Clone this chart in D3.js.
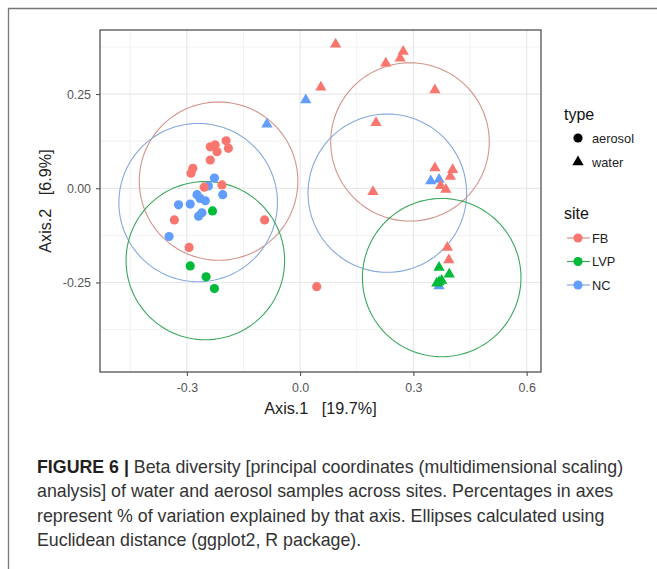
<!DOCTYPE html>
<html><head><meta charset="utf-8">
<script src="https://cdn.jsdelivr.net/npm/d3@7"></script>
<style>
body{margin:0;background:#fff;}
svg text{font-family:"Liberation Sans",Arial,sans-serif;}
</style>
</head><body><svg id="c" width="657" height="569"></svg>
<script>
// ---------- data ----------
const sites = ["FB", "LVP", "NC"];
const types = ["aerosol", "water"];
const xTicks = [-0.3, 0.0, 0.3, 0.6];
const yTicks = [0.25, 0.00, -0.25];
const xTickLabels = ["-0.3", "0.0", "0.3", "0.6"];
const yTickLabels = ["0.25", "0.00", "-0.25"];
const xMinor = [-0.45, -0.15, 0.15, 0.45];
const yMinor = [0.375, 0.125, -0.125, -0.375];

// aerosol samples [Axis.1, Axis.2]
const aerosolFB = [[-0.196,0.126],[-0.190,0.106],[-0.238,0.110],[-0.225,0.115],[-0.220,0.097],
  [-0.238,0.075],[-0.284,0.053],[-0.289,0.040],[-0.207,0.009],[-0.254,0.003],[-0.333,-0.084],
  [-0.094,-0.084],[-0.294,-0.157],[0.044,-0.261]];
const aerosolNC = [[-0.227,0.027],[-0.205,-0.017],[-0.273,-0.017],[-0.243,0.006],[-0.265,-0.027],
  [-0.251,-0.033],[-0.322,-0.044],[-0.291,-0.042],[-0.269,-0.074],[-0.260,-0.065],[-0.347,-0.128]];
const aerosolLVP = [[-0.232,-0.060],[-0.291,-0.206],[-0.249,-0.235],[-0.227,-0.266]];
// water samples
const waterFB = [[0.094,0.382],[0.273,0.363],[0.265,0.345],[0.227,0.332],[0.055,0.268],[0.357,0.261],
  [0.201,0.174],[0.357,0.054],[0.404,0.049],[0.398,0.031],[0.372,0.007],[0.386,-0.003],
  [0.193,-0.009],[0.390,-0.157],[0.394,-0.190]];
const waterNC = [[-0.088,0.170],[0.015,0.234],[0.346,0.019],[0.368,0.023],[0.368,-0.259]];
const waterLVP = [[0.368,-0.210],[0.395,-0.228],[0.375,-0.245],[0.368,-0.249],[0.362,-0.252]];

// ellipses (euclid) per site/type
const ellipseSite = ["FB","NC","LVP","FB","NC","LVP"];
const ellipseX = [-0.216,-0.270,-0.251,0.291,0.231,0.375];
const ellipseY = [0.019,-0.038,-0.192,0.123,-0.013,-0.237];
const ellipseRadius = 0.21;

const xLabel = "Axis.1   [19.7%]";
const yLabel = "Axis.2   [6.9%]";
const captionBold = "FIGURE 6 | ";
const captionLines = [
  "Beta diversity [principal coordinates (multidimensional scaling)",
  "analysis] of water and aerosol samples across sites. Percentages in axes",
  "represent % of variation explained by that axis. Ellipses calculated using",
  "Euclidean distance (ggplot2, R package)."
];

// ---------- drawing ----------
const FONT = "'Liberation Sans', Arial, sans-serif";
const svg = d3.select("#c");
const colors = {FB:"#F8766D", LVP:"#00BA38", NC:"#619CFF"};
const ellColors = {FB:"#d4938b", LVP:"#3aa85c", NC:"#86a9dc"};

// outer frame
svg.append("path").attr("d","M8.5,569 L8.5,8.5 L657,8.5").attr("fill","none")
  .attr("stroke","#777").attr("stroke-width",1.3);

const L = 100, R = 541, T = 30, B = 372;
const x = d3.scaleLinear().domain([-0.53, 0.638]).range([L, R]);
const y = d3.scaleLinear().domain([-0.4875, 0.42]).range([B, T]);

const g = svg.append("g");
// grid
g.selectAll(".xm").data(xMinor).join("line").attr("x1",d=>x(d)).attr("x2",d=>x(d))
  .attr("y1",T).attr("y2",B).attr("stroke","#f2f2f2").attr("stroke-width",1);
g.selectAll(".ym").data(yMinor).join("line").attr("y1",d=>y(d)).attr("y2",d=>y(d))
  .attr("x1",L).attr("x2",R).attr("stroke","#f2f2f2").attr("stroke-width",1);
g.selectAll(".xM").data(xTicks).join("line").attr("x1",d=>x(d)).attr("x2",d=>x(d))
  .attr("y1",T).attr("y2",B).attr("stroke","#e8e8e8").attr("stroke-width",1.2);
g.selectAll(".yM").data(yTicks).join("line").attr("y1",d=>y(d)).attr("y2",d=>y(d))
  .attr("x1",L).attr("x2",R).attr("stroke","#e8e8e8").attr("stroke-width",1.2);

// ellipses
const ang = d3.range(0, 361, 3).map(a => a*Math.PI/180);
const line = d3.line().x(d=>d[0]).y(d=>d[1]);
ellipseSite.forEach((s,i) => {
  const pts = ang.map(a => [x(ellipseX[i] + ellipseRadius*Math.cos(a)), y(ellipseY[i] + ellipseRadius*Math.sin(a))]);
  g.append("path").attr("d", line(pts)).attr("fill","none")
    .attr("stroke", ellColors[s]).attr("stroke-width",1.1);
});

// points
const tri = d3.symbol().type(d3.symbolTriangle).size(55);
const circ = d3.symbol().type(d3.symbolCircle).size(66);
function drawPts(arr, site, type){
  g.append("g").selectAll("path").data(arr).join("path")
    .attr("d", type==="water" ? tri() : circ())
    .attr("transform", d=>`translate(${x(d[0])},${y(d[1])})`)
    .attr("fill", colors[site]);
}
drawPts(aerosolNC,"NC","aerosol");
drawPts(aerosolFB,"FB","aerosol");
drawPts(aerosolLVP,"LVP","aerosol");
drawPts(waterNC,"NC","water");
drawPts(waterFB,"FB","water");
drawPts(waterLVP,"LVP","water");

// panel border
svg.append("rect").attr("x",L).attr("y",T).attr("width",R-L).attr("height",B-T)
  .attr("fill","none").attr("stroke","#444").attr("stroke-width",1.2);

// axes
const xAxis = d3.axisBottom(x).tickValues(xTicks).tickFormat((d,i)=>xTickLabels[i]).tickSize(4).tickPadding(7);
const yAxis = d3.axisLeft(y).tickValues(yTicks).tickFormat((d,i)=>yTickLabels[i]).tickSize(4).tickPadding(5);
const xa = svg.append("g").attr("transform",`translate(0,${B})`).call(xAxis);
const ya = svg.append("g").attr("transform",`translate(${L},0)`).call(yAxis);
[xa, ya].forEach(a => {
  a.attr("font-family", FONT);
  a.select(".domain").remove();
  a.selectAll(".tick line").attr("stroke","#444");
  a.selectAll(".tick text").attr("fill","#555").attr("font-size",12.4).style("font-family",FONT);
});

svg.append("text").attr("x",(L+R)/2).attr("y",413.5).attr("text-anchor","middle")
  .attr("font-size",16.2).attr("fill","#222").style("white-space","pre").text(xLabel);
svg.append("text").attr("transform",`translate(51,${(T+B)/2}) rotate(-90)`).attr("text-anchor","middle")
  .attr("font-size",16.2).attr("fill","#222").style("white-space","pre").text(yLabel);

// legend
const lg = svg.append("g");
lg.append("text").attr("x",564).attr("y",120).attr("font-size",16).attr("fill","#111").text("type");
types.forEach((t,i) => {
  const yy = 138 + i*24;
  lg.append("path").attr("d", t==="water" ? tri() : circ())
    .attr("transform",`translate(578,${yy})`).attr("fill","#000");
  lg.append("text").attr("x",592).attr("y",yy+4.5).attr("font-size",12.8).attr("fill","#222").text(t);
});
lg.append("text").attr("x",564).attr("y",219).attr("font-size",16).attr("fill","#111").text("site");
sites.forEach((s,i) => {
  const yy = 238 + i*23.5;
  lg.append("line").attr("x1",567).attr("x2",590).attr("y1",yy).attr("y2",yy)
    .attr("stroke",ellColors[s]).attr("stroke-width",1.2);
  lg.append("path").attr("d", circ()).attr("transform",`translate(578,${yy})`).attr("fill",colors[s]);
  lg.append("text").attr("x",592).attr("y",yy+4.5).attr("font-size",12.8).attr("fill","#222").text(s);
});

// caption
const cap = svg.append("g");
captionLines.forEach((ln,i) => {
  const t = cap.append("text").attr("x",37).attr("y",473 + i*24.3)
    .attr("font-size",17.8).attr("fill","#333")
    .style("font-family",FONT);
  if (i===0) t.append("tspan").attr("font-weight","bold").attr("fill","#231f20").text(captionBold);
  t.append("tspan").text(ln);
});
</script>
</body></html>
